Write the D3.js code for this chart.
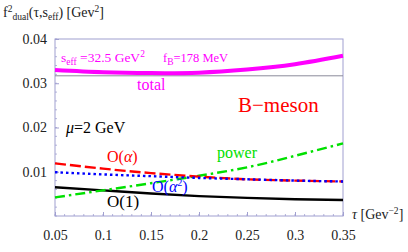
<!DOCTYPE html>
<html>
<head>
<meta charset="utf-8">
<script src="https://d3js.org/d3.v7.min.js"></script>
<style>
  body { margin: 0; background: #fff; }
  svg text { font-family: "Liberation Serif", "DejaVu Serif", serif; }
</style>
</head>
<body>
<div id="chart"></div>
<script>
const tau = [0.05, 0.1, 0.15, 0.2, 0.25, 0.3, 0.35];
const order1 = [0.0065, 0.0058, 0.0051, 0.0045, 0.0041, 0.0038, 0.0036];
const orderA = [0.0119, 0.0107, 0.0097, 0.0089, 0.0083, 0.0080, 0.0078];
const orderA2 = [0.0099, 0.0094, 0.0090, 0.0086, 0.0083, 0.0080, 0.0078];
const power = [0.0042, 0.0058, 0.0074, 0.0091, 0.0110, 0.0136, 0.0164];
const total = [0.0330, 0.0325, 0.0323, 0.0324, 0.0331, 0.0343, 0.0362];
const fB = 0.178;
const xTicks = [0.05, 0.1, 0.15, 0.2, 0.25, 0.3, 0.35];
const yTicks = [0.01, 0.02, 0.03, 0.04];

const W = 408, H = 252;
const margin = { top: 39, right: 65, bottom: 36, left: 55 };
const width = W - margin.left - margin.right,
      height = H - margin.top - margin.bottom;
const frameColor = "#a09fd0";
const SERIF = "\"Liberation Serif\", \"Times New Roman\", serif";
const SANS = "\"Liberation Sans\", Arial, sans-serif";

const root = d3.select("#chart").append("svg")
    .attr("width", W).attr("height", H);
const svg = root.append("g")
    .attr("transform", `translate(${margin.left},${margin.top})`);

const x = d3.scaleLinear().domain([0.05, 0.35]).range([0, width]);
const y = d3.scaleLinear().domain([0, 0.04]).range([height, 0]);

// minor ticks
const xMinor = d3.range(0.05, 0.3501, 0.01);
const yMinor = d3.range(0, 0.0401, 0.002);
svg.append("g").selectAll("line").data(xMinor).join("line")
    .attr("x1", d => x(d)).attr("x2", d => x(d))
    .attr("y1", height).attr("y2", height - 2)
    .attr("stroke", frameColor).attr("stroke-width", 0.8);
svg.append("g").selectAll("line").data(yMinor).join("line")
    .attr("x1", 0).attr("x2", 2)
    .attr("y1", d => y(d)).attr("y2", d => y(d))
    .attr("stroke", frameColor).attr("stroke-width", 0.8);

// axes
const xAxis = svg.append("g")
    .attr("transform", `translate(0,${height})`)
    .call(d3.axisBottom(x).tickValues(xTicks).tickSize(-4).tickPadding(14)
        .tickFormat(d3.format("")));
const yAxis = svg.append("g")
    .call(d3.axisLeft(y).tickValues(yTicks).tickSize(-4).tickPadding(8)
        .tickFormat(d3.format("")));
[xAxis, yAxis].forEach(a => {
    a.attr("font-family", SERIF).attr("font-size", 14);
    a.select(".domain").remove();
    a.selectAll(".tick line").attr("stroke", frameColor);
    a.selectAll(".tick text").attr("fill", "#222");
});

// frame
svg.append("rect")
    .attr("width", width).attr("height", height)
    .attr("fill", "none").attr("stroke", frameColor).attr("stroke-width", 1);

// f_B^2 reference line
svg.append("line")
    .attr("x1", 0).attr("x2", width)
    .attr("y1", y(fB * fB)).attr("y2", y(fB * fB))
    .attr("stroke", "#8a8a9a").attr("stroke-width", 1);

const line = d3.line()
    .x((d, i) => x(tau[i]))
    .y(d => y(d))
    .curve(d3.curveNatural);

const series = [
    { v: total, color: "#ff00ff", w: 4, dash: null },
    { v: order1, color: "#000000", w: 2.4, dash: null },
    { v: power, color: "#00e000", w: 2.4, dash: "10,4,2.5,4" },
    { v: orderA, color: "#ff0000", w: 2.4, dash: "11,4" },
    { v: orderA2, color: "#0000ff", w: 2.4, dash: "2.5,3" }
];
svg.append("g").selectAll("path").data(series).join("path")
    .attr("d", d => line(d.v))
    .attr("fill", "none")
    .attr("stroke", d => d.color)
    .attr("stroke-width", d => d.w)
    .attr("stroke-dasharray", d => d.dash);

// labels
const txt = (xx, yy, color, size, family) => root.append("text")
    .attr("x", xx).attr("y", yy)
    .attr("fill", color)
    .attr("font-size", size)
    .attr("font-family", family || SERIF);

// y title
const yt = txt(3, 17, "#222", 14);
yt.append("tspan").text("f");
yt.append("tspan").attr("dy", -5).attr("font-size", 9.5).text("2");
yt.append("tspan").attr("dy", 8).attr("font-size", 9.5).text("dual");
yt.append("tspan").attr("dy", -3).text("(τ,s");
yt.append("tspan").attr("dy", 3).attr("font-size", 9.5).text("eff");
yt.append("tspan").attr("dy", -3).text(") [Gev");
yt.append("tspan").attr("dy", -5).attr("font-size", 9.5).text("2");
yt.append("tspan").attr("dy", 5).text("]");

// x title
const xt = txt(352, 219, "#222", 14);
xt.append("tspan").attr("font-style", "italic").text("τ");
xt.append("tspan").text(" [Gev");
xt.append("tspan").attr("dy", -5).attr("font-size", 9.5).text("−2");
xt.append("tspan").attr("dy", 5).text("]");

// seff
const st = txt(61, 62, "#ff00ff", 13.5);
st.append("tspan").text("s");
st.append("tspan").attr("dy", 3).attr("font-size", 9.5).text("eff");
st.append("tspan").attr("dy", -3).text(" =32.5 GeV");
st.append("tspan").attr("dy", -5).attr("font-size", 9.5).text("2");

const fb = txt(163, 62, "#ff00ff", 12.5, SANS);
fb.append("tspan").text("f");
fb.append("tspan").attr("dy", 3).attr("font-size", 9.5).text("B");
fb.append("tspan").attr("dy", -3).text("=178 MeV");

txt(137, 90, "#ff00ff", 16).text("total");
txt(238, 112, "#ff0000", 21, SANS).text("B−meson");

const mu = txt(66, 133, "#000", 16);
mu.append("tspan").attr("font-style", "italic").text("μ");
mu.append("tspan").text("=2 GeV");

const oa = txt(107, 162, "#ff0000", 16);
oa.append("tspan").text("O(");
oa.append("tspan").attr("font-style", "italic").text("α");
oa.append("tspan").text(")");

txt(217, 158, "#00e000", 16).text("power");

const oa2 = txt(152, 192, "#0000ff", 16);
oa2.append("tspan").text("O(");
oa2.append("tspan").attr("font-style", "italic").text("α");
oa2.append("tspan").attr("dy", -6).attr("font-size", 10).text("2");
oa2.append("tspan").attr("dy", 6).text(")");

txt(107, 207, "#000", 17).text("O(1)");
</script>
</body>
</html>
